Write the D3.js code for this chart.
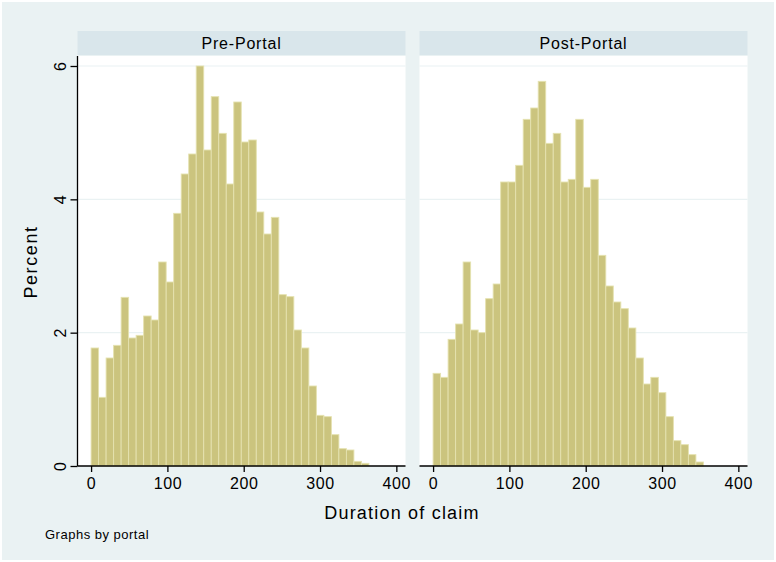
<!DOCTYPE html>
<html>
<head>
<meta charset="utf-8">
<script src="https://cdn.jsdelivr.net/npm/d3@7"></script>
<style>
  html, body { margin: 0; padding: 0; background: #ffffff; }
  svg { display: block; }
  text { font-family: "Liberation Sans", Arial, sans-serif; fill: #000; }
</style>
</head>
<body>
<script>
// Histogram of claim duration, split by portal period (percent of claims per bin)
const panels = ["Pre-Portal", "Post-Portal"];
const binStart = 0;
const binWidth = 9.84;
const prePercent = [1.77, 1.03, 1.62, 1.81, 2.53, 1.92, 1.96, 2.25, 2.19, 3.06, 2.76, 3.79,
  4.38, 4.68, 6.00, 4.74, 5.54, 4.99, 4.23, 5.46, 4.86, 4.89, 3.81, 3.48, 3.73, 2.57,
  2.54, 2.04, 1.77, 1.20, 0.76, 0.74, 0.47, 0.26, 0.24, 0.07, 0.04];
const postPercent = [1.39, 1.33, 1.90, 2.13, 3.06, 2.04, 2.00, 2.51, 2.73, 4.26, 4.26, 4.51,
  5.20, 5.37, 5.77, 4.84, 4.99, 4.26, 4.30, 5.20, 4.18, 4.30, 3.16, 2.70, 2.46, 2.36,
  2.07, 1.62, 1.23, 1.33, 1.10, 0.74, 0.38, 0.32, 0.17, 0.06];
const seriesByPanel = [prePercent, postPercent];
const xTicks = [0, 100, 200, 300, 400];
const yTicks = [0, 2, 4, 6];
const xTitle = "Duration of claim";
const yTitle = "Percent";
const note = "Graphs by portal";

const W = 776, H = 562;
const svg = d3.select("body").append("svg").attr("width", W).attr("height", H);

// outer graph region
svg.append("rect").attr("x", 2).attr("y", 2).attr("width", W - 4).attr("height", H - 4)
  .attr("fill", "#eaf2f3");

const panelX = [77.5, 419.5];
const panelW = 328;
const stripTop = 31, stripBottom = 55, plotTop = 56, plotBottom = 466;

const y = d3.scaleLinear().domain([0, 6]).range([plotBottom, 66]);

panels.forEach((name, i) => {
  const x0 = panelX[i];
  const x = d3.scaleLinear().domain([-17.8, 412]).range([x0, x0 + panelW]);
  const g = svg.append("g");

  // strip heading
  g.append("rect").attr("x", x0).attr("y", stripTop).attr("width", panelW)
    .attr("height", stripBottom - stripTop).attr("fill", "#d9e6eb");
  g.append("text").attr("x", x0 + panelW / 2).attr("y", (stripTop + stripBottom) / 2 + 6)
    .attr("text-anchor", "middle").attr("font-size", 16).attr("letter-spacing", 0.8).text(name);

  // plot region
  g.append("rect").attr("x", x0).attr("y", plotTop).attr("width", panelW)
    .attr("height", plotBottom - plotTop).attr("fill", "#ffffff");

  // horizontal grid
  g.selectAll(".grid").data(yTicks.filter(d => d > 0)).join("line")
    .attr("x1", x0).attr("x2", x0 + panelW)
    .attr("y1", d => y(d)).attr("y2", d => y(d))
    .attr("stroke", "#eaf2f3").attr("stroke-width", 1.2);

  // bars
  const data = seriesByPanel[i].map((v, k) => ({
    lo: binStart + k * binWidth, hi: binStart + (k + 1) * binWidth, v
  }));
  g.selectAll(".bar").data(data).join("rect")
    .attr("x", d => x(d.lo)).attr("width", d => x(d.hi) - x(d.lo))
    .attr("y", d => y(d.v)).attr("height", d => y(0) - y(d.v))
    .attr("fill", "#cbc47e").attr("stroke", "#e5e2b0").attr("stroke-width", 0.9);

  // x axis
  const xa = g.append("g").attr("transform", `translate(0,${plotBottom})`)
    .call(d3.axisBottom(x).tickValues(xTicks).tickSize(6).tickPadding(6).tickFormat(d3.format("d")));
  xa.select(".domain").attr("d", `M${x0},0H${x0 + panelW}`).attr("stroke", "#000").attr("stroke-width", 1.3);
  xa.selectAll(".tick line").attr("stroke", "#000").attr("stroke-width", 1.3);
  xa.selectAll(".tick text").attr("font-size", 16).attr("letter-spacing", 0.6)
    .attr("font-family", "Liberation Sans, Arial, sans-serif").attr("fill", "#000");
});

// y axis on the first panel
const ya = svg.append("g").attr("transform", `translate(${panelX[0]},0)`)
  .call(d3.axisLeft(y).tickValues(yTicks).tickSize(7).tickPadding(6).tickFormat(d3.format("d")));
ya.select(".domain").attr("d", `M0,${plotTop}V${plotBottom}`).attr("stroke", "#000").attr("stroke-width", 1.3);
ya.selectAll(".tick line").attr("stroke", "#000").attr("stroke-width", 1.3);
ya.selectAll(".tick text").attr("font-size", 16).attr("font-family", "Liberation Sans, Arial, sans-serif")
  .attr("fill", "#000").attr("text-anchor", "middle").attr("dy", null)
  .attr("dominant-baseline", "central")
  .attr("x", 0).attr("y", 0)
  .attr("transform", "translate(-17,0) rotate(-90)");

// axis titles and note
svg.append("text").attr("x", 402).attr("y", 519).attr("text-anchor", "middle")
  .attr("font-size", 18).attr("letter-spacing", 1.2).text(xTitle);
svg.append("text").attr("transform", "translate(37,262) rotate(-90)")
  .attr("text-anchor", "middle").attr("font-size", 18).attr("letter-spacing", 1.6).text(yTitle);
svg.append("text").attr("x", 45).attr("y", 539).attr("font-size", 13).attr("letter-spacing", 0.5).text(note);
</script>
</body>
</html>
